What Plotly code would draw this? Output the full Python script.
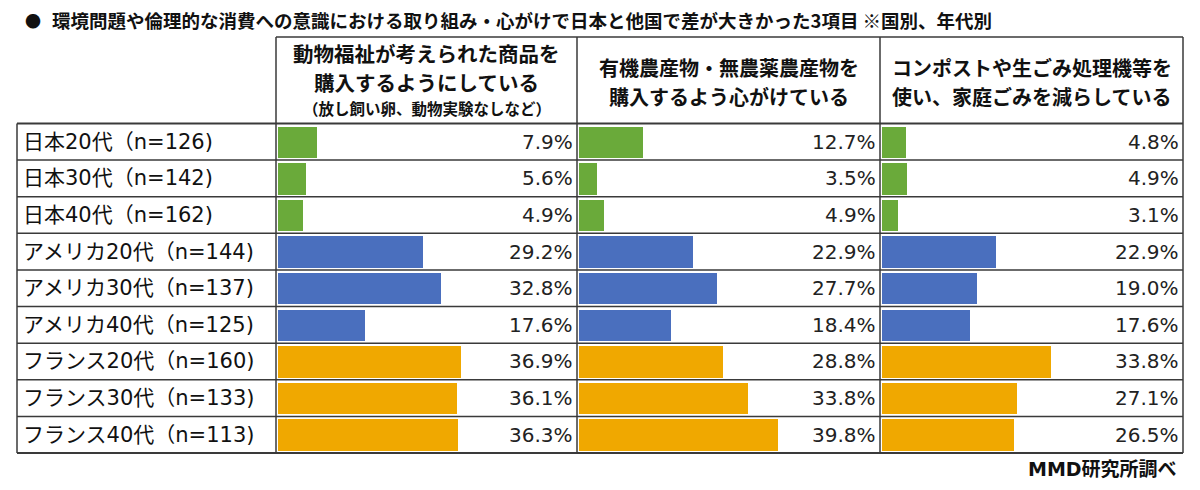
import plotly.graph_objects as go

W, H = 1200, 490

title = "環境問題や倫理的な消費への意識における取り組み・心がけで日本と他国で差が大きかった3項目 ※国別、年代別"
source = "MMD研究所調べ"

rows = ["日本20代（n=126)", "日本30代（n=142)", "日本40代（n=162)",
        "アメリカ20代（n=144)", "アメリカ30代（n=137)", "アメリカ40代（n=125)",
        "フランス20代（n=160)", "フランス30代（n=133)", "フランス40代（n=113)"]
country = ["日本"] * 3 + ["アメリカ"] * 3 + ["フランス"] * 3

headers = [
    ["動物福祉が考えられた商品を", "購入するようにしている", "（放し飼い卵、動物実験なしなど）"],
    ["有機農産物・無農薬農産物を", "購入するよう心がけている"],
    ["コンポストや生ごみ処理機等を", "使い、家庭ごみを減らしている"],
]

animal_welfare = [7.9, 5.6, 4.9, 29.2, 32.8, 17.6, 36.9, 36.1, 36.3]
organic = [12.7, 3.5, 4.9, 22.9, 27.7, 18.4, 28.8, 33.8, 39.8]
compost = [4.8, 4.9, 3.1, 22.9, 19.0, 17.6, 33.8, 27.1, 26.5]
series = [animal_welfare, organic, compost]

colors = {"日本": "#6aaa3a", "アメリカ": "#4a6fbe", "フランス": "#f0a800"}

FONT = "Noto Sans CJK JP"
FONT_W = "DejaVu Sans, Noto Sans CJK JP"

# pixel geometry (page coordinates); the page body has an 8px margin
OX, OY = 8, 8
tbl_left, tbl_right = 17, 1183
col_edges = [276, 577, 880, 1183]
hdr_top, hdr_bot, tbl_bot = 37, 123.5, 453

def px(x):
    return (x - OX) / W

def py(y):
    return 1 - (y - OY) / H

fig = go.Figure()
axis_names = ["x", "x2", "x3"]
n = len(rows)
idx = list(range(n))
for k, vals in enumerate(series):
    fig.add_trace(go.Bar(
        x=vals, y=idx, orientation="h", width=0.86,
        marker=dict(color=[colors[c] for c in country], line=dict(width=0)),
        xaxis=axis_names[k], yaxis="y", hoverinfo="skip", showlegend=False,
    ))
    for i, v in enumerate(vals):
        fig.add_annotation(
            x=1, y=i, xref=f"{axis_names[k]} domain", yref="y",
            text=f"{v:.1f}%", showarrow=False, xanchor="right", yanchor="middle",
            xshift=-2, font=dict(family=FONT_W, size=20, color="#222"),
        )

layout_axes = {}
for k in range(3):
    key = "xaxis" if k == 0 else f"xaxis{k + 1}"
    layout_axes[key] = dict(
        domain=[px(col_edges[k]), px(col_edges[k + 1])],
        range=[-0.45, 60.3], visible=False, fixedrange=True,
        anchor="y",
    )

fig.update_layout(
    width=W, height=H,
    margin=dict(l=0, r=0, t=0, b=0),
    paper_bgcolor="#ffffff", plot_bgcolor="rgba(0,0,0,0)",
    bargap=0,
    yaxis=dict(domain=[py(tbl_bot), py(hdr_bot)], range=[n - 0.5, -0.5],
               visible=False, fixedrange=True),
    **layout_axes,
)

# row labels
for i, r in enumerate(rows):
    fig.add_annotation(x=px(21), y=i, xref="paper", yref="y", text=r,
                       showarrow=False, xanchor="left", yanchor="middle",
                       font=dict(family=FONT_W, size=21, color="#111"))

# header texts
for k, lines in enumerate(headers):
    cx = px((col_edges[k] + col_edges[k + 1]) / 2)
    if len(lines) == 3:
        ys = [53, 82, 108]
        sizes = [20.5, 20.5, 15.5]
    else:
        ys = [67, 97]
        sizes = [20, 20]
    for t, yy, s in zip(lines, ys, sizes):
        fig.add_annotation(x=cx, y=py(yy), xref="paper", yref="paper", text=f"<b>{t}</b>",
                           showarrow=False, xanchor="center", yanchor="middle",
                           font=dict(family=FONT, size=s, color="#111"))

# title and source
fig.add_annotation(x=px(23), y=py(20), xref="paper", yref="paper", text="<b>●</b>",
                   showarrow=False, xanchor="left", yanchor="middle",
                   font=dict(family=FONT, size=16, color="#111"))
fig.add_annotation(x=px(50), y=py(20), xref="paper", yref="paper", text=f"<b>{title}</b>",
                   showarrow=False, xanchor="left", yanchor="middle",
                   font=dict(family=FONT, size=18.5, color="#111"))
fig.add_annotation(x=px(1179), y=py(469), xref="paper", yref="paper", text=f"<b>{source}</b>",
                   showarrow=False, xanchor="right", yanchor="middle",
                   font=dict(family=FONT_W, size=19, color="#111"))

# table lines
LC = "#3a3a3a"
shapes = []
def hline(y, x0, x1, w=1.5):
    shapes.append(dict(type="line", xref="paper", yref="paper", x0=px(x0), x1=px(x1),
                       y0=py(y), y1=py(y), line=dict(color=LC, width=w)))
def vline(x, y0, y1, w=1.5):
    shapes.append(dict(type="line", xref="paper", yref="paper", x0=px(x), x1=px(x),
                       y0=py(y0), y1=py(y1), line=dict(color=LC, width=w)))

hline(hdr_top, col_edges[0], tbl_right)
hline(hdr_bot, tbl_left, tbl_right, 2)
for i in range(1, n):
    shapes.append(dict(type="line", xref="paper", yref="y", x0=px(tbl_left), x1=px(tbl_right),
                       y0=i - 0.5, y1=i - 0.5, line=dict(color=LC, width=1.5)))
hline(tbl_bot, tbl_left, tbl_right, 2)
vline(tbl_left, hdr_bot, tbl_bot)
for x in col_edges:
    vline(x, hdr_top, tbl_bot)
fig.update_layout(shapes=shapes)

fig.write_html("out.html")
